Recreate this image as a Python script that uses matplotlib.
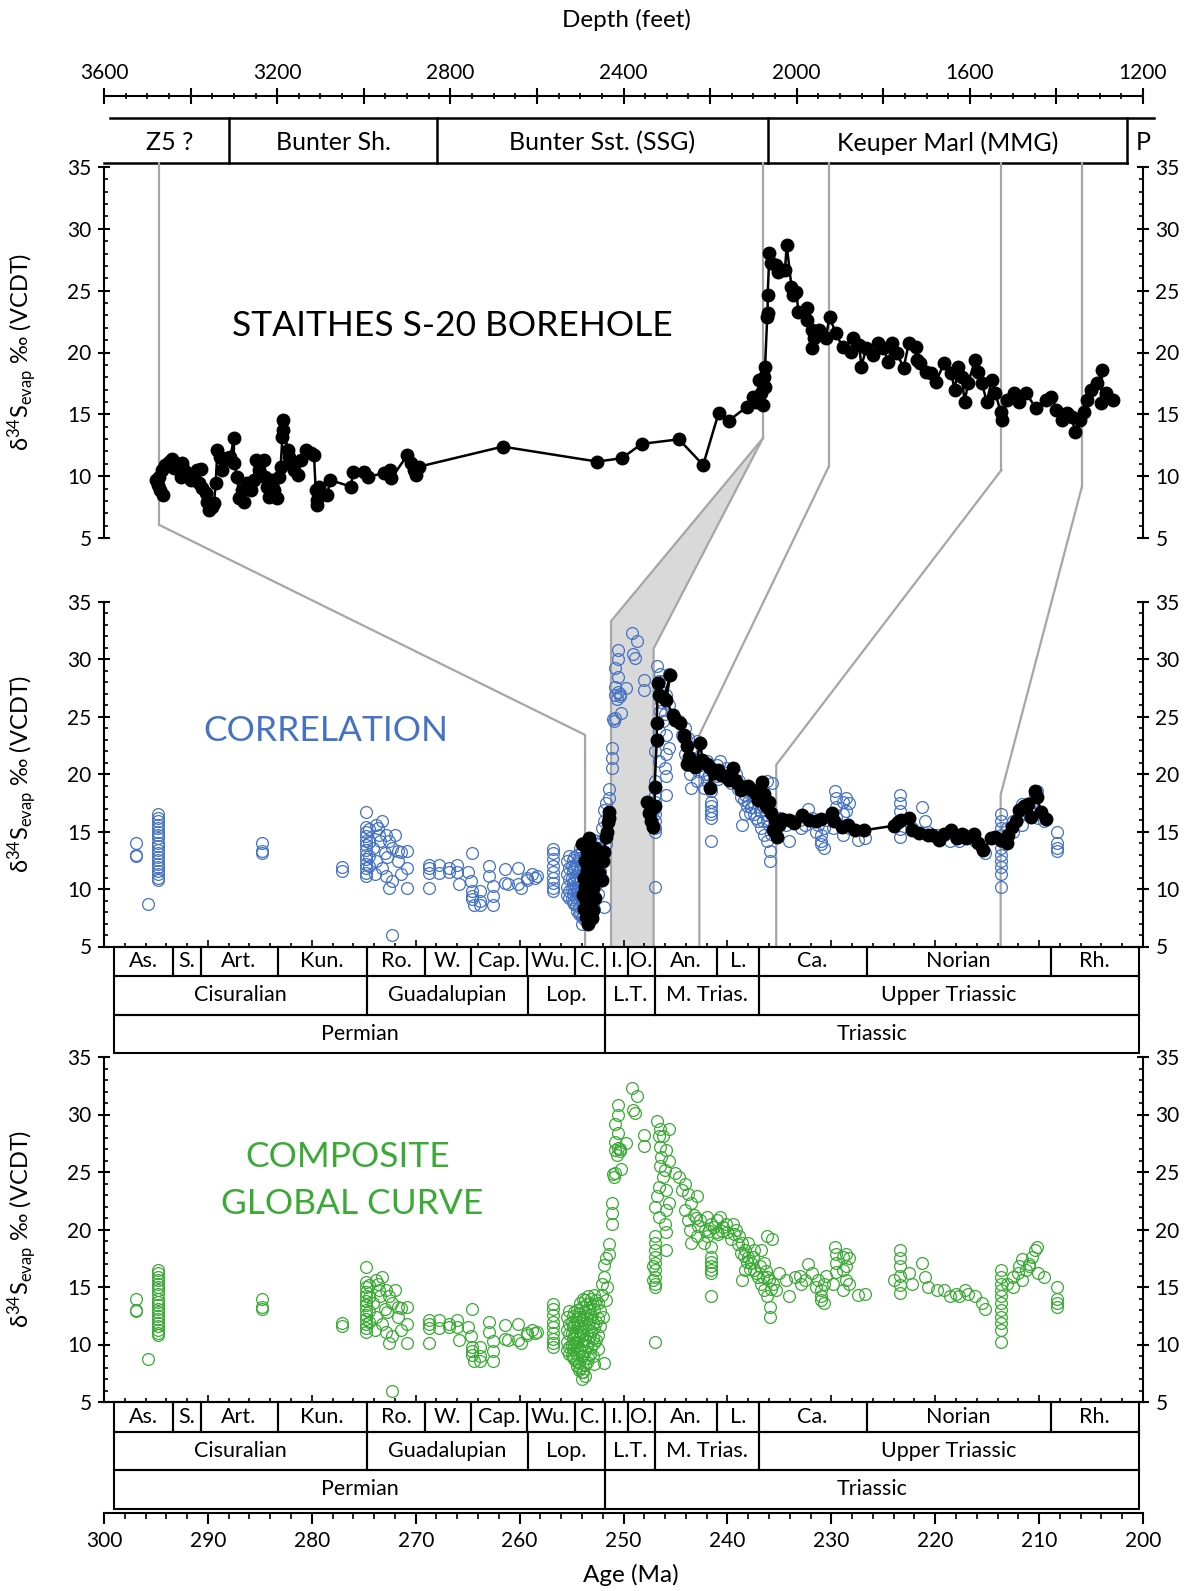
import matplotlib
matplotlib.use('Agg')
import matplotlib.pyplot as plt
from matplotlib.patches import Rectangle, Polygon
from matplotlib.ticker import MultipleLocator, FuncFormatter

plt.rcParams['font.family'] = ['Lato', 'DejaVu Sans']
plt.rcParams['mathtext.fontset'] = 'custom'
plt.rcParams['mathtext.rm'] = 'Lato'
plt.rcParams['mathtext.it'] = 'Lato:italic'

# ---------------- data ----------------
# Staithes S-20 borehole: (depth ft, d34S)
borehole_depth_pts = [
    (3479, 9.69), (3476, 9.29), (3470, 8.89), (3463, 8.48), (3473, 9.96), (3466, 10.5), (3458, 10.91),
    (3450, 11.18), (3443, 11.37), (3435, 11.04), (3439, 10.64), (3427, 10.77), (3420, 11.1), (3423, 9.96),
    (3416, 10.5), (3408, 10.23), (3400, 9.69), (3392, 9.96), (3385, 10.5), (3377, 10.56), (3381, 9.43),
    (3373, 9.02), (3365, 8.62), (3362, 7.94), (3358, 7.27), (3350, 7.54), (3346, 7.81), (3342, 9.43),
    (3338, 12.12), (3331, 11.58), (3327, 10.5), (3323, 11.31), (3315, 11.45), (3308, 11.58), (3300, 13.06),
    (3300, 11.04), (3292, 9.96), (3288, 8.21), (3281, 8.89), (3277, 7.94), (3269, 9.43), (3261, 8.89),
    (3254, 9.69), (3250, 11.31), (3242, 10.5), (3230, 11.31), (3227, 9.96), (3223, 9.16), (3219, 8.35),
    (3211, 9.69), (3207, 8.89), (3200, 8.21), (3196, 9.96), (3192, 10.77), (3188, 13.2), (3187, 13.74),
    (3187, 14.55), (3176, 12.12), (3173, 11.58), (3165, 11.04), (3161, 10.5), (3153, 10.1), (3146, 11.31),
    (3134, 12.12), (3123, 11.85), (3115, 11.72), (3111, 8.89), (3109, 8.08), (3109, 7.67), (3103, 9.16),
    (3084, 8.48), (3078, 9.69), (3030, 9.16), (3024, 10.37), (2999, 10.37), (2991, 9.96), (2953, 10.23),
    (2939, 10.5), (2936, 9.83), (2899, 11.72), (2891, 11.04), (2883, 10.5), (2880, 10.1), (2872, 10.77),
    (2679, 12.39), (2461, 11.18), (2404, 11.45), (2358, 12.61), (2272, 12.98), (2216, 10.9), (2180, 15.14),
    (2157, 14.49), (2114, 15.63), (2102, 16.43), (2094, 16.03), (2086, 17.78), (2082, 16.7), (2078, 15.76),
    (2074, 17.24), (2076, 18.05), (2073, 18.86), (2068, 22.9), (2067, 23.17), (2067, 24.66), (2063, 28.02),
    (2059, 27.22), (2047, 27.08), (2043, 26.54), (2035, 26.68), (2027, 26.68), (2023, 28.7), (2012, 25.33),
    (2008, 24.66), (2001, 24.92), (1996, 23.31), (1976, 23.58), (1976, 22.63), (1965, 21.83), (1961, 21.15),
    (1965, 20.34), (1949, 21.83), (1933, 21.15), (1924, 22.9), (1910, 21.56), (1894, 20.48), (1874, 20.07),
    (1870, 21.15), (1855, 20.61), (1851, 18.86), (1839, 20.34), (1823, 19.8), (1812, 20.75), (1800, 20.34),
    (1788, 19.27), (1780, 20.75), (1768, 19.94), (1753, 18.73), (1741, 20.75), (1725, 20.48), (1721, 19.4),
    (1714, 19.13), (1702, 18.46), (1690, 18.32), (1678, 17.65), (1659, 19.18), (1643, 18.32), (1635, 16.97),
    (1627, 18.86), (1619, 18.05), (1612, 16.03), (1604, 17.51), (1588, 19.4), (1580, 18.46), (1572, 17.51),
    (1561, 16.03), (1549, 17.78), (1541, 16.7), (1529, 15.22), (1525, 14.55), (1514, 16.17), (1498, 16.7),
    (1486, 16.03), (1470, 16.7), (1447, 15.49), (1423, 16.17), (1412, 16.43), (1400, 15.36), (1388, 14.55),
    (1376, 15.09), (1365, 14.82), (1357, 13.6), (1345, 14.55), (1337, 15.22), (1329, 16.17), (1321, 16.97),
    (1306, 17.51), (1294, 18.59), (1298, 15.9), (1286, 16.7), (1270, 16.17),
]

# borehole data placed on the age scale (Ma, d34S)
borehole_age_permian = [
    (254.0, 13.9), (253.9, 9.5), (253.8, 11.0), (253.8, 8.3), (253.7, 10.2), (253.7, 12.4), (253.6, 7.6),
    (253.6, 9.0), (253.5, 11.6), (253.5, 13.3), (253.4, 7.0), (253.4, 10.5), (253.3, 12.0), (253.3, 14.4),
    (253.2, 8.6), (253.2, 13.1), (253.1, 9.8), (253.1, 11.3), (253.0, 7.5), (253.0, 12.6), (252.9, 10.1),
    (252.9, 8.2), (252.8, 11.9), (252.7, 13.6), (252.7, 9.2), (252.6, 10.8), (252.5, 12.2), (252.4, 11.4),
    (252.3, 12.9), (252.1, 10.8), (252.0, 12.4), (251.9, 13.2), (251.7, 14.5), (251.6, 15.0), (251.5, 15.8),
    (251.4, 16.2), (251.4, 16.7),
]
borehole_age_triassic = [
    (247.7, 17.6), (247.5, 16.6), (247.4, 15.9), (247.2, 15.4), (247.4, 16.9), (247.0, 17.2), (247.0, 18.9),
    (246.8, 22.96), (246.8, 24.4), (246.7, 27.9), (246.6, 26.9), (246.1, 26.6), (245.5, 28.6), (245.9, 26.4),
    (245.2, 25.1), (245.0, 24.7), (244.6, 24.4), (244.2, 23.4), (244.2, 23.2), (243.9, 22.4), (243.7, 21.5),
    (243.9, 20.9), (243.5, 21.1), (243.1, 20.6), (242.6, 22.7), (242.4, 21.2), (242.0, 20.9), (241.7, 20.5),
    (241.7, 18.75), (241.3, 20.1), (240.9, 20.35), (240.6, 19.9), (240.2, 19.8), (239.8, 19.5), (239.5, 20.5),
    (239.3, 19.5), (239.1, 19.2), (238.7, 18.6), (238.3, 18.9), (238.0, 19.0), (237.6, 18.6), (237.2, 18.3),
    (237.1, 17.7), (236.7, 19.3), (236.5, 18.3), (236.3, 17.2), (236.0, 17.6), (235.8, 16.6), (235.4, 16.0),
    (235.6, 15.1), (235.2, 14.55), (235.0, 15.6), (234.7, 16.1), (234.1, 16.0), (233.6, 15.7), (232.8, 16.4),
    (232.1, 16.0), (231.5, 15.9), (231.0, 16.1), (229.9, 16.6), (229.7, 15.9), (229.0, 15.4), (228.4, 15.6),
    (227.7, 15.1), (226.9, 15.1), (224.0, 15.5), (223.6, 15.8), (223.3, 16.0), (222.5, 16.2), (222.2, 15.1),
    (221.6, 14.9), (220.7, 14.7), (220.3, 14.7), (219.6, 14.3), (219.2, 14.8), (218.5, 15.1), (217.9, 14.4),
    (217.4, 14.8), (217.0, 14.4), (216.3, 14.8), (215.9, 13.97), (215.4, 13.4), (214.6, 14.4), (214.2, 14.55),
    (213.7, 14.26), (213.1, 13.97), (213.0, 14.7), (212.6, 15.4), (212.2, 15.9), (211.9, 16.9), (211.5, 17.2),
    (211.1, 17.4), (210.8, 16.3), (210.4, 18.5), (210.2, 18.0), (209.8, 16.7), (209.3, 16.1),
]

# composite global evaporite curve (Ma, d34S)
global_permian = [
    (296.9, 14.0), (296.9, 12.9), (296.9, 13.0), (295.8, 8.7),
    (294.8, 16.5), (294.8, 16.2), (294.8, 15.9), (294.8, 15.6), (294.8, 15.3), (294.8, 15.0), (294.8, 14.7),
    (294.8, 14.4), (294.8, 14.0), (294.8, 13.7), (294.8, 13.4), (294.8, 13.1), (294.8, 12.8), (294.8, 12.5),
    (294.8, 12.2), (294.8, 11.9), (294.8, 11.6), (294.8, 11.3), (294.8, 11.0), (294.8, 10.8),
    (284.8, 14.0), (284.8, 13.3), (284.8, 13.1), (277.1, 11.9), (277.1, 11.6),
    (274.8, 16.7), (274.8, 15.4), (274.8, 15.0), (274.8, 14.6), (274.8, 14.2), (274.8, 13.8), (274.8, 13.4),
    (274.8, 13.0), (274.8, 12.6), (274.8, 12.2), (274.8, 11.8), (274.8, 11.4), (274.8, 11.1),
    (274.5, 15.2), (274.5, 14.1), (274.5, 12.9), (274.5, 12.0),
    (273.8, 15.6), (273.2, 15.9), (273.5, 14.7), (272.9, 14.7), (272.6, 14.2), (272.3, 13.6), (271.7, 13.3),
    (271.4, 13.2), (272.0, 14.7), (274.1, 13.6), (273.8, 12.4), (273.2, 11.8), (272.9, 11.1), (272.6, 10.1),
    (272.3, 10.7), (271.7, 12.4), (271.4, 11.3), (270.8, 13.3), (270.8, 11.8), (270.8, 10.1), (272.3, 6.0),
    (273.9, 11.3), (273.6, 15.3), (273.0, 13.1), (272.8, 12.8), (273.4, 14.2),
    (268.7, 12.1), (268.7, 11.4), (268.7, 10.1), (267.8, 12.1), (267.8, 11.4), (266.8, 11.5), (266.0, 12.1),
    (266.0, 11.5), (265.8, 10.4), (265.0, 11.5), (268.7, 11.8), (266.8, 11.8),
    (264.6, 13.1), (264.7, 10.7), (264.6, 9.8), (264.6, 9.1), (264.4, 8.6), (263.8, 9.8), (263.8, 8.6),
    (262.9, 12.0), (262.9, 11.1), (262.6, 10.3), (262.6, 9.4), (262.6, 8.6), (264.6, 9.4), (263.8, 9.0),
    (261.4, 11.7), (261.1, 10.4), (260.2, 11.8), (260.2, 10.4), (259.9, 10.1), (259.3, 11.0), (258.8, 11.3),
    (258.5, 11.0), (258.3, 11.1), (261.4, 10.5), (259.3, 10.8),
    (256.8, 13.5), (256.8, 13.1), (256.8, 12.6), (256.8, 12.0), (256.8, 11.5), (256.8, 11.0), (256.8, 10.5),
    (256.8, 10.1), (256.8, 9.8),
    (255.4, 12.4), (255.4, 11.3), (255.4, 10.2), (255.4, 9.5),
    (255.2, 12.9), (255.2, 11.8), (255.2, 10.9), (255.2, 9.8), (255.2, 9.2),
    (255.0, 12.0), (255.0, 11.0), (255.0, 10.0), (255.0, 9.1),
    (254.9, 12.5), (254.9, 11.5), (254.9, 10.5), (254.9, 9.6), (254.9, 8.9),
    (254.75, 12.8), (254.75, 11.8), (254.75, 10.8), (254.75, 9.9), (254.75, 8.7),
    (254.6, 12.2), (254.6, 11.1), (254.6, 10.2), (254.6, 9.3), (254.6, 8.6),
    (254.45, 13.0), (254.45, 12.0), (254.45, 10.9), (254.45, 9.9), (254.45, 8.1),
    (254.3, 12.7), (254.3, 11.6), (254.3, 10.6), (254.3, 9.7), (254.3, 8.4), (254.3, 7.8),
    (254.15, 13.6), (254.15, 12.4), (254.15, 11.0), (254.15, 9.4), (254.15, 8.0),
    (254.0, 13.3), (254.0, 12.1), (254.0, 11.2), (254.0, 10.0), (254.0, 9.0), (254.0, 7.6), (254.0, 7.0),
    (253.85, 14.0), (253.85, 12.4), (253.85, 10.8), (253.85, 9.0), (253.85, 7.6),
    (253.7, 13.9), (253.7, 12.8), (253.7, 11.6), (253.7, 10.5), (253.7, 9.4), (253.7, 8.2), (253.7, 7.3),
    (253.55, 13.5), (253.55, 12.2), (253.55, 10.0), (253.55, 8.5),
    (253.4, 14.2), (253.4, 13.0), (253.4, 11.8), (253.4, 10.3), (253.4, 8.8),
    (253.25, 13.6), (253.25, 12.3), (253.25, 10.7), (253.25, 9.2),
    (253.1, 14.0), (253.1, 12.6), (253.1, 11.2), (253.1, 9.8),
    (252.95, 13.4), (252.95, 11.9), (252.95, 10.6), (252.95, 9.0),
    (252.8, 14.3), (252.8, 13.1), (252.8, 11.4), (252.8, 10.1), (252.8, 8.3),
    (252.65, 13.9), (252.65, 12.0), (252.65, 10.4),
    (252.5, 13.6), (252.5, 12.3), (252.5, 10.8), (252.5, 9.6),
    (252.3, 11.6), (252.3, 12.9), (252.1, 14.3), (252.1, 15.3), (251.9, 15.9), (251.9, 16.9), (251.7, 17.5),
    (251.6, 15.0), (252.0, 12.4), (251.7, 13.9), (251.4, 18.7), (251.4, 17.9), (251.9, 8.4),
]
global_triassic = [
    (251.1, 20.5), (251.1, 21.4), (251.1, 22.3), (250.9, 24.6), (250.8, 24.9), (250.2, 25.3), (250.8, 26.9),
    (250.5, 27.1), (250.3, 27.0), (250.8, 27.6), (249.8, 27.5), (250.5, 28.4), (250.8, 29.2), (250.5, 30.0),
    (250.5, 30.8), (249.2, 32.3), (248.7, 31.6), (249.1, 30.4), (248.9, 30.1), (248.0, 28.2), (248.0, 27.3),
    (250.6, 26.5), (250.3, 26.8), (251.0, 24.8),
    (247.0, 19.4), (247.0, 18.8), (247.0, 18.2), (247.0, 17.6), (247.0, 17.1), (247.0, 16.5), (247.0, 15.9),
    (247.0, 15.3), (247.0, 15.0), (247.0, 10.2), (246.8, 29.4), (246.5, 28.7), (246.6, 28.1), (246.5, 27.2),
    (246.4, 26.3), (246.5, 25.5), (246.2, 24.6), (246.6, 23.7), (246.8, 22.9), (247.0, 22.0), (246.6, 21.1),
    (246.0, 20.5), (245.9, 19.8), (245.9, 18.2), (246.2, 28.1), (245.6, 28.7), (245.9, 26.9), (245.6, 26.0),
    (246.0, 25.2), (245.9, 23.4), (245.6, 22.3), (245.9, 21.7), (247.2, 16.8), (247.2, 15.6),
    (245.0, 24.9), (244.7, 24.6), (244.4, 23.4), (244.1, 24.0), (243.8, 23.1), (243.5, 22.3), (242.9, 22.9),
    (244.1, 21.7), (243.8, 20.8), (243.6, 20.0), (243.5, 18.8), (243.2, 21.3), (242.6, 20.8), (242.0, 21.1),
    (241.6, 20.5), (241.0, 20.8), (240.7, 21.1), (240.4, 20.2), (240.1, 20.5), (239.5, 20.5), (241.0, 19.8),
    (242.0, 19.4), (241.6, 18.5), (241.6, 17.6), (241.6, 16.8), (241.6, 16.2), (241.6, 14.2), (242.3, 18.8),
    (242.9, 19.4), (241.6, 17.2), (241.6, 16.5),
    (243.0, 21.0), (242.8, 20.3), (242.2, 20.0), (241.8, 19.9), (241.3, 20.2), (240.9, 19.6), (240.5, 19.9),
    (240.0, 19.8), (239.7, 19.2), (239.4, 19.6), (239.0, 18.7), (238.7, 18.0), (238.4, 17.7), (238.1, 17.2),
    (237.8, 16.6), (237.5, 17.6), (237.2, 16.2), (236.9, 16.8), (236.6, 15.9), (236.3, 16.4), (236.0, 15.6),
    (235.8, 14.8),
    (239.2, 20.0), (238.9, 19.4), (238.6, 18.8), (238.3, 18.2), (238.0, 17.6), (237.7, 17.1), (237.4, 16.5),
    (237.1, 15.9), (236.8, 15.3), (236.5, 14.7), (236.2, 14.2), (235.9, 13.3), (235.9, 12.4), (238.3, 16.5),
    (238.6, 15.6), (236.2, 19.4), (235.7, 19.2), (236.8, 18.2), (236.5, 17.1), (236.2, 15.9), (237.4, 18.2),
    (238.0, 18.8), (235.6, 15.3), (235.3, 14.7),
    (235.0, 16.2), (234.4, 15.6), (234.1, 14.2), (233.5, 15.9), (232.9, 15.3), (232.2, 17.0), (231.9, 16.2),
    (231.3, 15.6), (231.0, 14.2), (230.7, 13.6), (230.7, 15.3), (231.0, 14.7), (231.0, 13.9), (229.6, 18.5),
    (229.5, 17.9), (229.5, 17.1), (228.9, 17.6), (228.6, 17.9), (228.3, 17.5), (228.9, 16.5), (228.6, 15.6),
    (228.9, 14.7), (229.8, 15.3), (228.3, 15.3), (227.4, 14.3), (226.8, 14.4), (229.5, 16.3), (228.6, 16.8),
    (233.0, 16.0), (232.5, 15.6), (231.5, 15.0), (230.5, 16.0),
    (223.4, 18.2), (223.4, 17.5), (223.4, 16.8), (223.4, 16.0), (223.4, 15.2), (223.4, 14.5), (224.0, 15.6),
    (222.5, 16.2), (222.2, 15.3), (221.3, 17.1), (221.0, 15.9), (220.7, 15.0),
    (219.8, 14.7), (219.2, 14.7), (218.6, 14.2), (218.0, 14.4), (217.7, 14.2), (217.1, 14.7), (216.2, 14.2),
    (215.5, 13.6), (215.2, 13.1), (216.8, 14.4),
    (213.7, 16.5), (213.7, 15.9), (213.7, 15.3), (213.7, 14.7), (213.7, 14.2), (213.7, 13.6), (213.7, 13.0),
    (213.7, 12.4), (213.7, 11.9), (213.7, 11.3), (213.7, 10.2),
    (213.1, 15.3), (212.5, 15.9), (211.9, 16.8), (211.6, 17.4), (211.3, 16.5), (211.0, 16.8), (210.7, 17.6),
    (210.4, 18.2), (210.2, 18.5), (210.1, 16.2), (209.5, 15.9), (211.6, 15.6), (212.5, 15.0), (211.0, 17.0),
    (212.0, 16.2),
    (208.3, 15.0), (208.3, 14.0), (208.3, 13.6), (208.3, 13.3),
]

litho_names = ['Z5 ?', 'Bunter Sh.', 'Bunter Sst. (SSG)', 'Keuper Marl (MMG)', 'P']
litho_bounds = [3586, 3311, 2831, 2066, 1237, 1175]

stage_names = ['As.', 'S.', 'Art.', 'Kun.', 'Ro.', 'W.', 'Cap.', 'Wu.', 'C.', 'I.', 'O.', 'An.', 'L.',
               'Ca.', 'Norian', 'Rh.']
stage_bounds = [299.0, 293.4, 290.7, 283.3, 274.7, 269.1, 264.7, 259.3, 254.7, 251.8, 249.6, 247.0,
                241.0, 237.0, 226.6, 208.9, 200.4]
series_names = ['Cisuralian', 'Guadalupian', 'Lop.', 'L.T.', 'M. Trias.', 'Upper Triassic']
series_bounds = [299.0, 274.7, 259.2, 251.8, 247.0, 237.0, 200.4]
period_names = ['Permian', 'Triassic']
period_bounds = [299.0, 251.8, 200.4]

# correlation tie lines: kink in the borehole panel (depth, d34S) -> kink in the age panel (age, d34S)
tie_depth = [3472, 1926, 1527, 1342]
tie_top_val = [6.05, 10.77, 10.5, 9.03]
tie_age = [253.7, 242.7, 235.3, 213.7]
tie_mid_val = [23.4, 23.4, 20.8, 18.2]
gap_depth, gap_top_val = 2078, 13.07
gap_ages = [251.2, 247.1]
gap_mid_vals = [33.3, 30.9]

BLUE = '#4472C4'
GREEN = '#3AAA35'
GREY = '#A6A6A6'

# ---------------- layout ----------------
W, H = 1195, 1591
X0, X1 = 104, 1143
fig = plt.figure(figsize=(W / 100, H / 100), dpi=100)


def rect(top, bottom, left=X0, right=X1):
    return [left / W, 1 - bottom / H, (right - left) / W, (bottom - top) / H]


def style_y(ax):
    ax.set_ylim(5, 35)
    ax.patch.set_alpha(0)
    ax.yaxis.set_major_locator(MultipleLocator(5))
    ax.yaxis.set_minor_locator(MultipleLocator(1))
    ax.tick_params(axis='y', which='major', direction='inout', length=8, width=1.5,
                   left=True, right=True, labelleft=True, labelright=True, labelsize=15, pad=5)
    ax.tick_params(axis='y', which='minor', direction='in', length=3, width=1.2, left=True, right=True)
    ax.spines['top'].set_visible(False)
    for s in ['left', 'right', 'bottom']:
        ax.spines[s].set_linewidth(1.5)


def style_age_bottom(ax):
    ax.set_xlim(300, 200)
    ax.xaxis.set_major_locator(MultipleLocator(10))
    ax.xaxis.set_minor_locator(MultipleLocator(2))
    ax.tick_params(axis='x', which='major', direction='in', length=5, width=1.2, labelbottom=False)
    ax.tick_params(axis='x', which='minor', direction='in', length=3, width=1.2)


def timescale(top):
    ax = fig.add_axes(rect(top, top + 107, left=X0, right=X1))
    ax.set_xlim(300, 200)
    ax.set_ylim(107, 0)
    ax.axis('off')
    rows = [(0, 29.5, stage_names, stage_bounds), (29.5, 68, series_names, series_bounds),
            (68, 106.5, period_names, period_bounds)]
    for y0, y1, names, bounds in rows:
        for i, name in enumerate(names):
            a, b = bounds[i], bounds[i + 1]
            ax.add_patch(Rectangle((a, y0), b - a, y1 - y0, fill=False, lw=1.5, ec='black', clip_on=False))
            ax.text((a + b) / 2, (y0 + y1) / 2, name, ha='center', va='center', fontsize=15.5)


# depth axis
ax_depth = fig.add_axes(rect(96, 106))
ax_depth.set_xlim(3600, 1200)
ax_depth.patch.set_alpha(0)
for s in ['left', 'right', 'bottom']:
    ax_depth.spines[s].set_visible(False)
ax_depth.spines['top'].set_linewidth(1.5)
ax_depth.set_yticks([])
ax_depth.xaxis.set_major_locator(MultipleLocator(200))
ax_depth.xaxis.set_minor_locator(MultipleLocator(50))
ax_depth.xaxis.set_major_formatter(FuncFormatter(lambda v, p: f'{v:.0f}' if round(v) % 400 == 0 else ''))
ax_depth.tick_params(axis='x', which='major', direction='inout', length=11, width=1.5, top=True,
                     bottom=False, labeltop=True, labelbottom=False, labelsize=15, pad=4)
ax_depth.tick_params(axis='x', which='minor', direction='inout', length=4, width=1.2, top=True, bottom=False)
fig.text(626 / W, 1 - 20 / H, 'Depth (feet)', ha='center', va='center', fontsize=17.5)

# lithostratigraphy boxes
ax_lith = fig.add_axes(rect(118, 163))
ax_lith.set_xlim(3600, 1200)
ax_lith.set_ylim(0, 1)
ax_lith.axis('off')
ax_lith.plot([litho_bounds[0], litho_bounds[-1]], [1, 1], color='black', lw=1.8, clip_on=False)
ax_lith.plot([3600, litho_bounds[-2]], [0, 0], color='black', lw=1.8, clip_on=False)
for b in litho_bounds[1:-1]:
    ax_lith.plot([b, b], [0, 1], color='black', lw=1.8, clip_on=False)
for i, name in enumerate(litho_names):
    if name == 'P':
        xc = 1200
    else:
        xc = (litho_bounds[i] + litho_bounds[i + 1]) / 2
    ax_lith.text(xc, 0.45, name, ha='center', va='center', fontsize=18)

# ---- top panel: borehole vs depth ----
ax_top = fig.add_axes(rect(167, 538))
style_y(ax_top)
ax_top.set_xlim(3600, 1200)
ax_top.spines['bottom'].set_visible(False)
ax_top.tick_params(axis='x', which='both', bottom=False, labelbottom=False)
bd, bv = zip(*borehole_depth_pts)
ax_top.plot(bd, bv, '-o', color='black', ms=9, lw=1.8, zorder=5)
for d, v in zip(tie_depth + [gap_depth], tie_top_val + [gap_top_val]):
    ax_top.plot([d, d], [35.3, v], color=GREY, lw=1.6, zorder=1, clip_on=False)
ax_top.text(452 / W, 1 - 326 / H, 'STAITHES S-20 BOREHOLE', transform=fig.transFigure,
            ha='center', va='center', fontsize=25.5)

# ---- middle panel: correlation ----
ax_mid = fig.add_axes(rect(601.5, 946.5))
style_y(ax_mid)
style_age_bottom(ax_mid)


def top_to_mid(d, v):
    p = ax_top.transData.transform((d, v))
    return ax_mid.transData.inverted().transform(p)


gx, gy = top_to_mid(gap_depth, gap_top_val)
shade = Polygon([(gx, gy), (gap_ages[0], gap_mid_vals[0]), (gap_ages[0], 5), (gap_ages[1], 5),
                 (gap_ages[1], gap_mid_vals[1])], closed=True, fc='#D9D9D9', ec='none',
                zorder=0.5, clip_on=False)
ax_mid.add_patch(shade)
for a, mv in zip(gap_ages, gap_mid_vals):
    ax_mid.plot([gx, a, a], [gy, mv, 5], color=GREY, lw=1.6, zorder=1, clip_on=False)
for d, tv, a, mv in zip(tie_depth, tie_top_val, tie_age, tie_mid_val):
    px, py = top_to_mid(d, tv)
    ax_mid.plot([px, a, a], [py, mv, 5], color=GREY, lw=1.6, zorder=1, clip_on=False)

ga, gv = zip(*(global_permian + global_triassic))
ax_mid.plot(ga, gv, 'o', ms=8.5, mfc='none', mec=BLUE, mew=0.9, zorder=3)
for series in (borehole_age_permian, borehole_age_triassic):
    a, v = zip(*series)
    ax_mid.plot(a, v, '-o', color='black', ms=9, lw=1.8, zorder=5)
ax_mid.text(326 / W, 1 - 731 / H, 'CORRELATION', transform=fig.transFigure, ha='center',
            va='center', fontsize=25.5, color=BLUE)
timescale(946.5)

# ---- bottom panel: composite global curve ----
ax_bot = fig.add_axes(rect(1057, 1402))
style_y(ax_bot)
style_age_bottom(ax_bot)
ax_bot.plot(ga, gv, 'o', ms=8.5, mfc='none', mec=GREEN, mew=0.9, zorder=3)
ax_bot.text(348 / W, 1 - 1157 / H, 'COMPOSITE', transform=fig.transFigure, ha='center',
            va='center', fontsize=25.5, color=GREEN)
ax_bot.text(352 / W, 1 - 1204 / H, 'GLOBAL CURVE', transform=fig.transFigure, ha='center',
            va='center', fontsize=25.5, color=GREEN)
timescale(1402)

# age axis
ax_age = fig.add_axes(rect(1503, 1513))
ax_age.set_xlim(300, 200)
ax_age.patch.set_alpha(0)
for s in ['left', 'right', 'top']:
    ax_age.spines[s].set_visible(False)
ax_age.spines['bottom'].set_linewidth(1.5)
ax_age.set_yticks([])
ax_age.xaxis.set_major_locator(MultipleLocator(10))
ax_age.xaxis.set_minor_locator(MultipleLocator(2))
ax_age.tick_params(axis='x', which='major', direction='out', length=8, width=1.5, labelsize=15, pad=5)
ax_age.tick_params(axis='x', which='minor', direction='out', length=4, width=1.2)
fig.text(631 / W, 1 - 1575 / H, 'Age (Ma)', ha='center', va='center', fontsize=17.5)

ylab = 'δ$^{34}$S$_{\\mathrm{evap}}$ ‰ (VCDT)'
for yc in [352, 774, 1229]:
    fig.text(22 / W, 1 - yc / H, ylab, rotation=90, ha='center', va='center', fontsize=17)

fig.savefig('out.png', dpi=100)
